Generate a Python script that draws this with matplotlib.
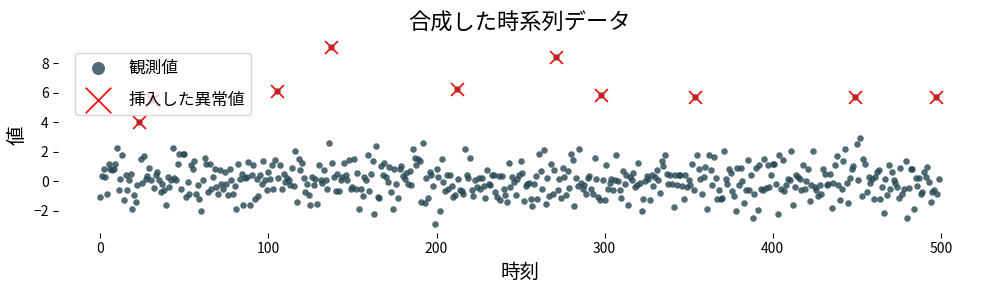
import matplotlib
matplotlib.use("Agg")
import matplotlib.pyplot as plt
import numpy as np

plt.rcParams['font.family'] = ['Noto Sans CJK JP', 'DejaVu Sans']

values = [
    -1.06, 0.34, 0.81, 0.30, -0.88, 1.15, 0.86, 0.75, 0.86, 1.15,
    2.28, -0.55, 0.14, 1.81, -1.29, 0.41, -0.61, 0.07, 0.52, -1.90,
    -0.95, -1.40, -0.26, 4.05, 1.55, -0.10, 1.72, 0.18, 0.36, 0.90,
    0.07, 5.50, -0.45, 0.45, 0.63, 0.07, -0.72, -0.16, -0.61, -1.63,
    0.30, -0.38, 0.07, 2.28, 0.23, 0.07, 1.15, 1.87, -0.50, 1.87,
    1.88, -1.06, -0.04, -0.88, 1.13, 0.81, 1.36, -0.88, -0.27, -1.17,
    -1.97, 0.07, 1.60, 1.20, -0.72, 1.20, -0.50, 0.29, 0.86, -0.38,
    -0.84, 0.75, -0.16, -0.50, 0.63, -0.16, -0.95, 0.81, 0.10, -0.88,
    -0.34, -1.85, 1.20, 0.14, 0.52, -1.63, 0.20, 0.30, 1.30, -1.58,
    0.41, 1.13, -1.17, 0.18, -1.00, 0.41, -0.20, 1.36, 0.07, -0.61,
    0.63, 0.18, 1.13, -0.50, 1.42, 6.10, 0.23, 1.09, -0.50, 0.52,
    -0.04, 0.20, 0.07, -0.27, 0.93, -0.34, 2.03, -1.40, 1.54, 0.79,
    1.27, 0.25, -0.72, -0.16, -0.90, -1.63, 0.29, -0.23, 0.18, -1.52,
    1.13, 0.07, -0.09, 0.75, 0.07, -0.54, 2.62, 9.10, 1.27, 0.29,
    -0.68, 0.52, -0.68, 0.10, 0.29, 1.27, 0.41, 0.07, 1.42, -0.50,
    -0.38, 1.54, -0.50, 0.60, -1.90, -0.50, -1.00, 0.29, 0.10, 1.76,
    -0.68, 0.52, 1.36, -2.24, 2.37, -1.06, -1.11, 1.04, 0.45, 1.27,
    0.29, -0.04, 0.97, -0.72, -1.90, 0.86, -0.16, -1.10, 0.86, 1.04,
    0.40, 0.18, 0.57, -0.16, 0.68, -0.23, 2.17, 1.60, 1.09, 1.49,
    1.36, -1.40, 2.62, -1.45, 0.25, -1.10, 0.63, 0.41, -0.30, -2.87,
    0.86, 0.29, -2.03, 1.54, -0.04, -0.68, 0.45, -0.50, 0.45, -0.34,
    -1.06, -0.90, 6.28, 0.14, -0.61, -0.65, -0.84, 2.20, 0.41, 0.23,
    1.60, -0.61, -1.02, 0.10, -0.38, 0.23, -0.50, 0.23, -0.34, -1.10,
    0.79, -0.20, -0.23, 0.45, 0.41, -0.72, -1.06, 0.36, -1.29, 0.34,
    -0.50, -0.95, -1.40, 1.27, -0.38, 0.29, -0.04, -0.95, 0.14, 0.41,
    1.36, 0.59, -1.33, -0.30, -0.16, -0.09, -1.22, -1.67, -0.16, 0.34,
    -1.22, 1.87, 0.68, -0.50, 2.10, -1.56, 0.20, -1.02, 1.20, -0.84,
    0.75, 8.39, -0.61, 0.14, -1.13, 0.90, 0.30, -0.95, 0.68, -0.45,
    1.87, 1.42, -1.67, 0.23, -0.30, 2.17, -0.09, -0.50, -0.27, -0.88,
    0.23, 0.40, -0.54, -0.84, 1.58, 0.18, -1.06, -1.29, 5.88, 0.10,
    -1.29, 1.13, -0.50, -0.09, 0.18, -0.57, 0.07, 1.81, 0.00, -0.61,
    -1.13, 0.68, -0.16, 0.45, -1.63, 0.30, 0.07, 0.59, -0.40, -0.27,
    1.27, -0.09, -2.03, -1.22, 0.00, 0.40, 0.18, -1.29, 0.41, -0.30,
    0.29, 0.75, 0.07, -0.77, 1.36, 1.04, 1.76, 0.52, -0.20, 0.41,
    -0.16, -1.76, 0.45, -0.27, 0.45, 0.41, -0.32, -1.22, 0.41, -0.38,
    0.10, -0.23, 1.20, -0.60, 5.72, 1.81, 0.86, 0.14, -0.84, 0.30,
    0.97, -1.90, 1.76, 0.75, -0.27, 1.65, 0.25, -1.22, -0.61, -1.17,
    -1.11, 2.03, 0.14, -0.16, 0.81, 0.59, -0.68, -1.02, -2.00, 0.90,
    -0.27, 0.90, 0.00, -1.45, -0.61, 1.47, -0.61, 0.45, -2.47, -0.84,
    0.90, -1.92, 1.13, -0.50, -0.61, 1.49, -0.45, 1.13, -0.38, 0.45,
    1.20, 1.20, -0.16, -2.24, 1.81, -0.50, 1.42, -0.68, -0.23, 0.18,
    0.07, 2.08, -1.63, -0.38, 0.45, 0.29, 0.18, -0.60, 1.13, -0.50,
    0.00, 0.81, -1.36, -0.27, 2.03, -0.38, -0.61, -0.99, -0.23, -0.88,
    0.81, 0.52, -0.27, -0.16, 0.52, -1.81, -0.09, 1.13, 1.72, -0.23,
    -1.29, -0.54, 1.36, 2.17, -0.09, -1.45, 0.23, 0.86, 1.04, 5.72,
    2.55, 0.07, 2.96, -1.02, 1.54, 1.15, -0.72, 0.30, -0.09, 0.18,
    -1.17, 0.29, 0.63, 0.75, -1.17, -0.38, -2.13, 0.14, -0.95, 1.13,
    -0.50, 0.63, 0.07, -0.09, -0.38, -1.13, 0.93, -0.84, -0.50, 1.36,
    -2.46, -0.45, 0.86, 0.86, -1.90, 0.23, -0.34, 0.23, -0.84, -0.72,
    0.63, 0.29, 0.98, -0.04, -1.40, -0.72, -0.61, 5.72, -0.84, 0.18,
]
anomaly_idx = [23, 31, 105, 137, 212, 271, 298, 354, 449, 497]

title = "合成した時系列データ"
xlabel = "時刻"
ylabel = "値"
label_obs = "観測値"
label_anom = "挿入した異常値"

values = np.array(values)
t = np.arange(len(values))

fig, ax = plt.subplots(figsize=(9.89, 2.89), dpi=100)
fig.subplots_adjust(left=0.059, right=0.992, top=0.868, bottom=0.195)

ax.scatter(t, values, s=22, color="#264653", alpha=0.8, linewidths=0, label=label_obs)
ax.scatter(t[anomaly_idx], values[anomaly_idx], s=85, marker="x", color="red",
           linewidths=1.2, label=label_anom)

ax.set_title(title, fontsize=16)
ax.set_xlabel(xlabel, fontsize=14)
ax.set_ylabel(ylabel, fontsize=14)
ax.set_xticks([0, 100, 200, 300, 400, 500])
ax.set_yticks([-2, 0, 2, 4, 6, 8])
ax.tick_params(labelsize=10)
for s in ax.spines.values():
    s.set_visible(False)

ax.legend(loc="upper left", bbox_to_anchor=(0.018, 0.925), borderaxespad=0,
          fontsize=12, markerscale=2.0, labelspacing=0.9)

fig.savefig("out.png", dpi=100)
